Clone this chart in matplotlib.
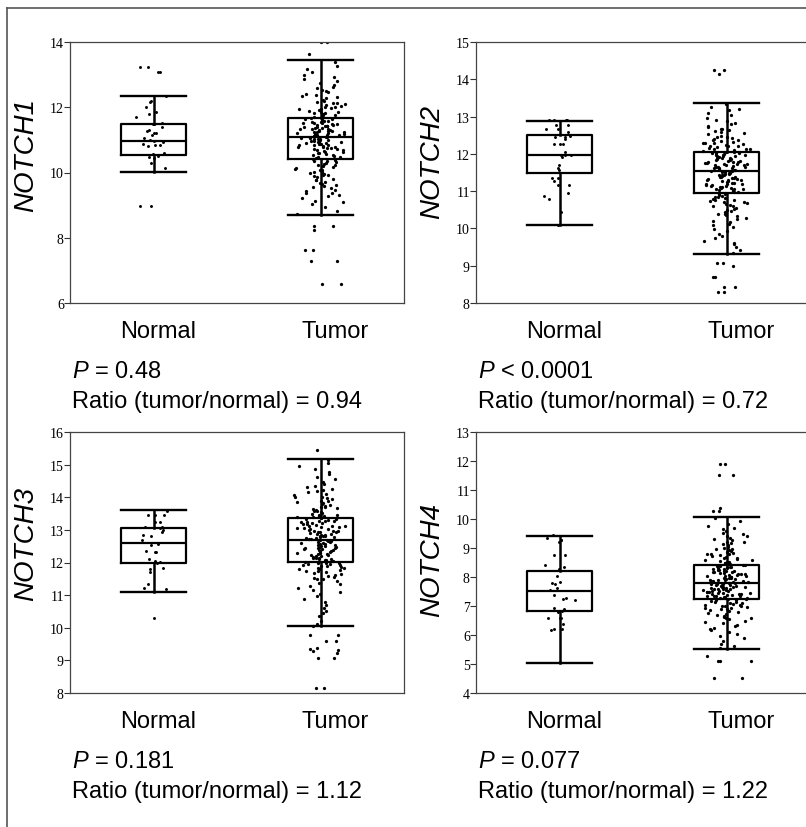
import math
import matplotlib
matplotlib.use("Agg")
import matplotlib.pyplot as plt
from matplotlib.lines import Line2D

# ---------------- data ----------------
genes = ["NOTCH1", "NOTCH2", "NOTCH3", "NOTCH4"]
groups = ["Normal", "Tumor"]
p_values = ["= 0.48", "< 0.0001", "= 0.181", "= 0.077"]
ratios = ["0.94", "0.72", "1.12", "1.22"]

yticks_n1 = [6, 8, 10, 12, 14]
yticks_n2 = [8, 9, 10, 11, 12, 13, 14, 15]
yticks_n3 = [8, 9, 10, 11, 12, 13, 14, 15, 16]
yticks_n4 = [4, 5, 6, 7, 8, 9, 10, 11, 12, 13]

# box statistics: [whisker low, Q1, median, Q3, whisker high]
box_n1_normal = [10.02, 10.55, 10.98, 11.49, 12.35]
box_n1_tumor = [8.71, 10.40, 11.09, 11.67, 13.45]
box_n2_normal = [10.08, 11.48, 11.98, 12.50, 12.89]
box_n2_tumor = [9.32, 10.94, 11.53, 12.05, 13.37]
box_n3_normal = [11.09, 12.00, 12.61, 13.06, 13.62]
box_n3_tumor = [10.04, 12.01, 12.69, 13.36, 15.16]
box_n4_normal = [5.05, 6.82, 7.52, 8.21, 9.43]
box_n4_tumor = [5.51, 7.23, 7.78, 8.41, 10.08]

# individual samples
pts_n1_normal = [13.09, 13.09, 13.22, 13.22, 12.35, 12.19, 12.17, 12.0, 11.85, 11.79,
                 11.69, 11.5, 11.5, 11.52, 11.38, 11.29, 11.27, 11.2, 11.16, 11.2,
                 11.06, 10.98, 11.0, 10.92, 10.88, 10.85, 10.85, 10.8, 10.56, 10.6,
                 10.52, 10.48, 10.43, 10.3, 10.13, 8.96, 8.96]
pts_n1_tumor = [
    8.74, 8.82, 8.93, 9.02, 9.09, 9.14, 9.21, 9.27, 9.31, 9.36, 9.38, 9.44, 9.47, 9.52, 9.55,
    9.58, 9.61, 9.66, 9.69, 9.71, 9.76, 9.78, 9.81, 9.85, 9.88, 9.91, 9.93, 9.96, 9.99, 10.01,
    10.03, 10.07, 10.09, 10.11, 10.14, 10.17, 10.19, 10.22, 10.24, 10.26, 10.29, 10.31, 10.34,
    10.36, 10.38,
    10.42, 10.44, 10.46, 10.48, 10.51, 10.53, 10.55, 10.57, 10.59, 10.61, 10.62, 10.64, 10.66,
    10.68, 10.69, 10.71, 10.73, 10.74, 10.76, 10.78, 10.79, 10.81, 10.83, 10.84, 10.86, 10.87,
    10.89, 10.91, 10.92, 10.94, 10.95, 10.97, 10.98, 11.0, 11.01, 11.02, 11.04, 11.05, 11.07,
    11.08, 10.77, 10.88, 10.93, 11.03, 10.85,
    11.1, 11.12, 11.13, 11.15, 11.16, 11.18, 11.19, 11.21, 11.22, 11.24, 11.25, 11.27, 11.28,
    11.29, 11.31, 11.32, 11.34, 11.35, 11.37, 11.38, 11.39, 11.41, 11.42, 11.44, 11.45, 11.47,
    11.48, 11.5, 11.51, 11.53, 11.54, 11.56, 11.57, 11.59, 11.6, 11.62, 11.63, 11.65, 11.66,
    11.14, 11.23, 11.33, 11.43, 11.52, 11.26,
    11.69, 11.71, 11.73, 11.76, 11.78, 11.81, 11.83, 11.86, 11.89, 11.91, 11.94, 11.97, 12.0,
    12.02, 12.05, 12.08, 12.11, 12.14, 12.17, 12.2, 12.23, 12.27, 12.31, 12.34, 12.38, 12.42,
    12.46, 12.5, 12.54, 12.58, 12.63, 12.68, 12.74, 12.8, 12.86, 12.93, 13.0, 13.08, 13.17,
    13.27, 13.4, 11.75, 11.84, 11.96, 12.12,
    14.0, 14.0, 13.63, 8.35, 8.35, 8.24, 7.63, 7.63, 7.29, 7.29, 6.58, 6.58]

pts_n2_normal = [12.92, 12.92, 12.92, 12.92, 12.77, 12.77, 12.68, 12.68, 12.58, 12.49,
                 12.44, 12.44, 12.40, 12.26, 12.26, 12.26, 12.06, 11.91, 11.98, 11.98,
                 11.98, 11.63, 11.57, 11.70, 11.36, 11.36, 11.26, 11.17, 11.17, 10.94,
                 10.87, 10.78, 10.44, 10.08]
pts_n2_tumor = [
    9.35, 9.42, 9.5, 9.58, 9.66, 9.73, 9.8, 9.86, 9.92, 9.98, 10.03, 10.08, 10.12, 10.17, 10.21,
    10.25, 10.29, 10.33, 10.37, 10.4, 10.44, 10.47, 10.5, 10.53, 10.56, 10.59, 10.62, 10.65,
    10.67, 10.7, 10.72, 10.75, 10.77, 10.79, 10.81, 10.83, 10.85, 10.87, 10.89, 10.91, 10.93,
    10.38, 10.61, 10.74, 9.62,
    10.95, 10.97, 10.98, 11.0, 11.02, 11.03, 11.05, 11.06, 11.08, 11.09, 11.11, 11.12, 11.14,
    11.15, 11.17, 11.18, 11.2, 11.21, 11.23, 11.24, 11.26, 11.27, 11.29, 11.3, 11.32, 11.33,
    11.35, 11.36, 11.38, 11.39, 11.41, 11.42, 11.44, 11.45, 11.47, 11.48, 11.5, 11.51, 11.52,
    11.07, 11.19, 11.31, 11.43, 11.16, 11.37,
    11.54, 11.55, 11.57, 11.58, 11.59, 11.61, 11.62, 11.63, 11.65, 11.66, 11.67, 11.69, 11.7,
    11.71, 11.73, 11.74, 11.75, 11.77, 11.78, 11.79, 11.81, 11.82, 11.83, 11.85, 11.86, 11.87,
    11.89, 11.9, 11.91, 11.93, 11.94, 11.95, 11.97, 11.98, 11.99, 12.01, 12.02, 12.03, 12.04,
    11.64, 11.76, 11.88, 11.96, 11.72, 11.84,
    12.06, 12.08, 12.1, 12.12, 12.14, 12.16, 12.18, 12.2, 12.22, 12.24, 12.26, 12.28, 12.3,
    12.33, 12.35, 12.38, 12.4, 12.43, 12.46, 12.49, 12.52, 12.55, 12.58, 12.61, 12.64, 12.68,
    12.71, 12.75, 12.79, 12.83, 12.87, 12.92, 12.97, 13.03, 13.1, 13.17, 13.25, 13.33, 12.13,
    12.21, 12.29, 12.37, 12.45, 12.66, 13.2,
    14.26, 14.26, 14.14, 9.06, 9.06, 8.98, 8.69, 8.69, 8.44, 8.44, 8.29, 8.29]

pts_n3_normal = [13.47, 13.45, 13.45, 13.59, 13.25, 13.25, 13.1, 13.08, 13.05, 13.0,
                 12.95, 12.85, 12.82, 12.7, 12.57, 12.54, 12.35, 12.33, 12.31, 12.1,
                 12.05, 12.03, 12.0, 11.8, 11.71, 11.83, 11.33, 11.23, 11.18, 10.3]
pts_n3_tumor = [
    10.06, 10.12, 10.2, 10.35, 10.5, 10.6, 10.7, 10.8, 10.88, 10.96, 11.03, 11.1, 11.16, 11.22,
    11.28, 11.33, 11.38, 11.43, 11.48, 11.52, 11.56, 11.6, 11.64, 11.67, 11.7, 11.73, 11.76,
    11.79, 11.81, 11.84, 11.86, 11.88, 11.9, 11.92, 11.94, 11.96, 11.97, 11.99, 12.0, 11.5,
    11.62, 11.75, 11.83, 11.91, 10.45,
    12.02, 12.04, 12.05, 12.07, 12.09, 12.1, 12.12, 12.14, 12.15, 12.17, 12.19, 12.2, 12.22,
    12.24, 12.25, 12.27, 12.29, 12.3, 12.32, 12.34, 12.35, 12.37, 12.39, 12.4, 12.42, 12.44,
    12.45, 12.47, 12.49, 12.5, 12.52, 12.54, 12.55, 12.57, 12.59, 12.6, 12.62, 12.64, 12.65,
    12.67, 12.68, 12.13, 12.28, 12.43, 12.58,
    12.7, 12.72, 12.73, 12.75, 12.77, 12.78, 12.8, 12.82, 12.83, 12.85, 12.87, 12.88, 12.9,
    12.92, 12.93, 12.95, 12.97, 12.98, 13.0, 13.02, 13.03, 13.05, 13.07, 13.08, 13.1, 13.12,
    13.13, 13.15, 13.17, 13.18, 13.2, 13.22, 13.23, 13.25, 13.27, 13.28, 13.3, 13.32, 13.33,
    13.35, 12.81, 12.96, 13.11, 13.26, 12.74,
    13.38, 13.4, 13.42, 13.45, 13.47, 13.5, 13.52, 13.55, 13.58, 13.61, 13.64, 13.67, 13.7,
    13.73, 13.76, 13.8, 13.83, 13.87, 13.9, 13.94, 13.98, 14.02, 14.06, 14.1, 14.15, 14.2,
    14.25, 14.3, 14.36, 14.42, 14.48, 14.55, 14.62, 14.7, 14.78, 14.87, 14.96, 15.05, 15.14,
    13.44, 13.57, 13.69, 13.85, 14.0, 14.22,
    15.44, 9.79, 9.79, 9.59, 9.59, 9.38, 9.36, 9.33, 9.28, 9.23, 9.07, 9.07, 8.14, 8.14]

pts_n4_normal = [9.46, 9.28, 9.28, 9.22, 9.34, 8.77, 8.77, 8.41, 8.36, 8.27, 8.02, 7.81,
                 7.75, 7.83, 7.63, 7.55, 7.37, 7.28, 7.21, 7.23, 6.94, 6.91, 6.84, 6.79,
                 6.6, 6.57, 6.57, 6.37, 6.22, 6.17, 6.19, 5.07]
pts_n4_tumor = [
    5.55, 5.63, 5.7, 5.8, 5.9, 5.98, 6.05, 6.12, 6.18, 6.24, 6.3, 6.35, 6.4, 6.45, 6.5, 6.54,
    6.58, 6.62, 6.66, 6.7, 6.74, 6.77, 6.8, 6.83, 6.86, 6.89, 6.92, 6.94, 6.97, 6.99, 7.01,
    7.03, 7.05, 7.07, 7.09, 7.11, 7.13, 7.15, 7.17, 7.19, 7.21, 6.6, 6.88, 7.0, 6.2,
    7.24, 7.25, 7.27, 7.28, 7.29, 7.31, 7.32, 7.33, 7.35, 7.36, 7.37, 7.39, 7.4, 7.41, 7.43,
    7.44, 7.45, 7.47, 7.48, 7.49, 7.51, 7.52, 7.53, 7.55, 7.56, 7.57, 7.59, 7.6, 7.61, 7.63,
    7.64, 7.65, 7.67, 7.68, 7.69, 7.71, 7.72, 7.73, 7.75, 7.76, 7.77, 7.34, 7.46, 7.58, 7.66,
    7.79, 7.8, 7.82, 7.83, 7.85, 7.86, 7.88, 7.89, 7.91, 7.92, 7.94, 7.95, 7.97, 7.98, 8.0,
    8.01, 8.03, 8.04, 8.06, 8.07, 8.09, 8.1, 8.12, 8.13, 8.15, 8.16, 8.18, 8.19, 8.21, 8.22,
    8.24, 8.25, 8.27, 8.28, 8.3, 8.31, 8.33, 8.34, 8.36, 8.37, 8.39, 8.4, 7.87, 8.02, 8.17,
    8.43, 8.45, 8.48, 8.5, 8.53, 8.55, 8.58, 8.6, 8.63, 8.66, 8.69, 8.72, 8.75, 8.78, 8.81,
    8.84, 8.87, 8.9, 8.94, 8.97, 9.01, 9.05, 9.09, 9.13, 9.17, 9.21, 9.26, 9.31, 9.36, 9.41,
    9.47, 9.53, 9.6, 9.67, 9.75, 9.84, 9.93, 10.03, 8.52, 8.65, 8.8, 8.98, 9.2, 9.4, 9.7,
    11.9, 11.9, 11.52, 11.52, 10.39, 10.28, 10.28, 5.29, 5.1, 5.1, 5.1, 4.52, 4.52]

panels = [
    (genes[0], yticks_n1, box_n1_normal, box_n1_tumor, pts_n1_normal, pts_n1_tumor, p_values[0], ratios[0]),
    (genes[1], yticks_n2, box_n2_normal, box_n2_tumor, pts_n2_normal, pts_n2_tumor, p_values[1], ratios[1]),
    (genes[2], yticks_n3, box_n3_normal, box_n3_tumor, pts_n3_normal, pts_n3_tumor, p_values[2], ratios[2]),
    (genes[3], yticks_n4, box_n4_normal, box_n4_tumor, pts_n4_normal, pts_n4_tumor, p_values[3], ratios[3]),
]

# ---------------- layout / style ----------------
W, H = 806, 828
plt.rcParams['font.family'] = ['Liberation Sans', 'DejaVu Sans']
plt.rcParams['mathtext.fontset'] = 'custom'
plt.rcParams['mathtext.it'] = 'Liberation Sans:italic'
plt.rcParams['mathtext.rm'] = 'Liberation Sans'

fig = plt.figure(figsize=(W / 100, H / 100), dpi=100)

# axes rectangles in pixels: left, top
rects = [(70, 43), (476, 43), (70, 433), (476, 433)]
ax_w, ax_h = 334, 261
label_y = [0.57, 0.545, 0.575, 0.515]


def _hash(x):
    s = math.sin(x * 12.9898 + 78.233) * 43758.5453
    return s - math.floor(s)


def jitter(n, spread, seed):
    # deterministic horizontal spread of the dots (layout only)
    offs = []
    for i in range(n):
        u = _hash(i + seed * 1000.0)
        v = _hash(i * 1.7 + seed * 1000.0 + 0.5)
        offs.append((u + v - 1.0) * spread)
    return offs


for k, (gene, yt, bn, bt, pn, pt, pv, ratio) in enumerate(panels):
    lx, ty = rects[k]
    ax = fig.add_axes([lx / W, 1 - (ty + ax_h) / H, ax_w / W, ax_h / H])
    # points
    for j, (pos, pts, spread, size) in enumerate(((1, pn, 0.11, 4.5), (2, pt, 0.16, 5.5))):
        offs = jitter(len(pts), spread, k * 2 + j + 1)
        ax.scatter([pos + o for o in offs], pts, s=size, color='black',
                   linewidths=0, zorder=2)
    stats = []
    for b in (bn, bt):
        stats.append(dict(whislo=b[0], q1=b[1], med=b[2], q3=b[3], whishi=b[4], fliers=[]))
    ax.bxp(stats, positions=[1, 2], widths=0.39, capwidths=0.39, showfliers=False,
           boxprops=dict(color='black', linewidth=1.6),
           whiskerprops=dict(color='black', linewidth=1.8),
           capprops=dict(color='black', linewidth=1.7),
           medianprops=dict(color='black', linewidth=1.6),
           manage_ticks=False, zorder=3)
    ax.set_xlim(0.5, 2.5)
    ax.set_ylim(yt[0], yt[-1])
    ax.set_yticks(yt)
    ax.set_yticklabels([str(t) for t in yt], family='Liberation Serif', fontsize=10)
    ax.set_xticks([])
    ax.tick_params(axis='y', direction='out', length=4, width=0.8, pad=0.5, color='#333333')
    for sp in ax.spines.values():
        sp.set_color('#444444')
        sp.set_linewidth(0.9)
    ax.text(-0.13, label_y[k], gene, transform=ax.transAxes, rotation=90,
            fontsize=20, fontstyle='italic', ha='center', va='center')
    ax.text(0.263, -0.13, groups[0], transform=ax.transAxes, fontsize=17,
            ha='center', va='baseline')
    ax.text(0.793, -0.13, groups[1], transform=ax.transAxes, fontsize=17,
            ha='center', va='baseline')
    ax.text(0.006, -0.283, r'$P$ ' + pv, transform=ax.transAxes, fontsize=17,
            ha='left', va='baseline')
    ax.text(0.006, -0.398, 'Ratio (tumor/normal) = ' + ratio, transform=ax.transAxes,
            fontsize=17, ha='left', va='baseline')

# outer frame (left and top edges)
fig.add_artist(Line2D([7.5 / W, 7.5 / W], [0, 1 - 8.5 / H], transform=fig.transFigure,
                      color='#555555', linewidth=1.2))
fig.add_artist(Line2D([7.5 / W, 1], [1 - 8.5 / H, 1 - 8.5 / H], transform=fig.transFigure,
                      color='#555555', linewidth=1.2))

fig.savefig('out.png', dpi=100)
